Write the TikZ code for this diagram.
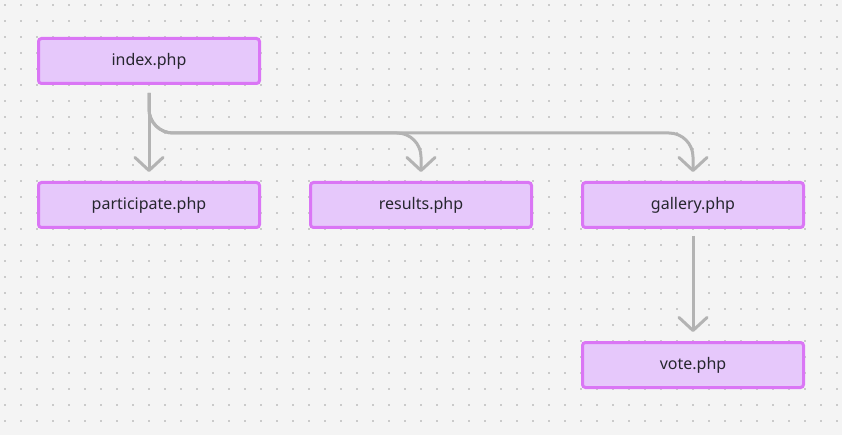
\documentclass[tikz,border=0pt]{standalone}
\usepackage{fontspec}
\setmainfont{Noto Sans}
\usetikzlibrary{arrows.meta}
\definecolor{bgc}{HTML}{F4F4F4}
\definecolor{dotc}{HTML}{CACACA}
\definecolor{boxfill}{HTML}{E6C8FB}
\definecolor{boxline}{HTML}{DA76F5}
\definecolor{linec}{HTML}{B3B3B3}
\definecolor{txt}{HTML}{26262E}
\tikzset{
  page/.style={draw=boxline, fill=boxfill, line width=3pt, rounded corners=3pt,
    minimum width=221pt, minimum height=45pt, inner sep=0pt,
    font=\fontsize{16pt}{19pt}\selectfont, text=txt},
  conn/.style={draw=linec, line width=3pt, rounded corners=24pt,
    -{Straight Barb[length=13pt,width=28pt,line cap=round,line join=round]}}
}
\begin{document}
\begin{tikzpicture}[x=1pt,y=-1pt]
\useasboundingbox (0,0) rectangle (842,435);
\fill[bgc] (0,0) rectangle (842,435);
\foreach \i in {0,...,52}{
  \foreach \j in {0,...,27}{
    \fill[dotc] ({4+16*\i},{4+16*\j}) rectangle ++(2,2);
  }
}
\node[page] (index) at (149,61) {index.php};
\node[page] (participate) at (149,205) {participate.php};
\node[page] (results) at (421,205) {results.php};
\node[page] (gallery) at (693,205) {gallery.php};
\node[page] (vote) at (693,365) {vote.php};
\coordinate (trunk) at ([yshift=-8pt]index.south);
\draw[conn] (trunk) -- ([yshift=9pt]participate.north);
\draw[conn] (trunk) |- ([yshift=48pt]results.north) -- ([yshift=9pt]results.north);
\draw[conn] (trunk) |- ([yshift=48pt]gallery.north) -- ([yshift=9pt]gallery.north);
\draw[conn] ([yshift=-7pt]gallery.south) -- ([yshift=9pt]vote.north);
\end{tikzpicture}
\end{document}
